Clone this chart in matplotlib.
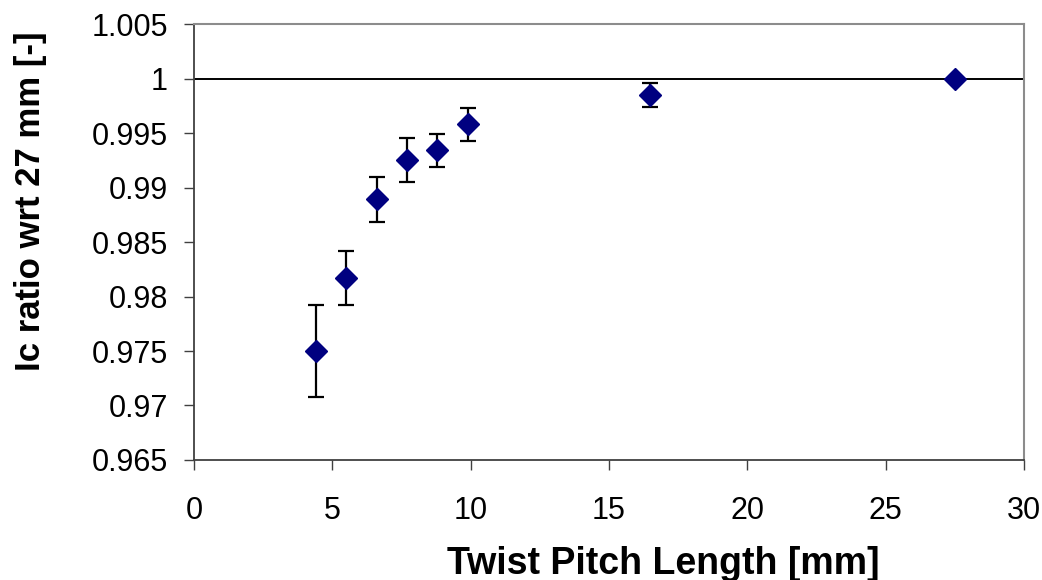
import matplotlib
matplotlib.use("Agg")
import matplotlib.pyplot as plt

plt.rcParams["font.family"] = ["Liberation Sans", "DejaVu Sans"]

# donnees
pitch = [4.4, 5.5, 6.6, 7.7, 8.8, 9.9, 16.5, 27.5]
ic_ratio = [0.9750, 0.9817, 0.9889, 0.9925, 0.9934, 0.9958, 0.9985, 1.0000]
ic_err = [0.0042, 0.0025, 0.0021, 0.0020, 0.0015, 0.0015, 0.0011, 0.0]

x_ticks = [0, 5, 10, 15, 20, 25, 30]
y_ticks = [0.965, 0.97, 0.975, 0.98, 0.985, 0.99, 0.995, 1.0, 1.005]
y_labels = ["0.965", "0.97", "0.975", "0.98", "0.985", "0.99", "0.995", "1", "1.005"]

NAVY = "#000080"

fig = plt.figure(figsize=(10.42, 5.8), dpi=100)
ax = fig.add_axes([0.1862, 0.2069, 0.7965, 0.7517])

ax.axhline(1.0, color="black", lw=1.4, zorder=1)
ax.errorbar(pitch, ic_ratio, yerr=ic_err, fmt="D", color=NAVY, ms=11,
            mec=NAVY, ecolor="black", elinewidth=1.6, capsize=5.6,
            capthick=1.6, zorder=3)

ax.set_xlim(0, 30)
ax.set_ylim(0.965, 1.005)
ax.set_xticks(x_ticks)
ax.set_yticks(y_ticks)
ax.set_yticklabels(y_labels)
ax.tick_params(axis="both", labelsize=22, direction="out", length=7,
               width=1, color="#404040")
ax.tick_params(axis="x", pad=19)
ax.tick_params(axis="y", pad=12)

for side in ["left", "bottom"]:
    ax.spines[side].set_color("#404040")
    ax.spines[side].set_linewidth(1.3)
for side in ["top", "right"]:
    ax.spines[side].set_color("#8c8c8c")
    ax.spines[side].set_linewidth(1.5)

ax.set_xlabel("Twist Pitch Length [mm]", fontsize=27, fontweight="bold")
ax.set_ylabel("Ic ratio wrt 27 mm [-]", fontsize=25, fontweight="bold")
ax.xaxis.set_label_coords(0.566, -0.197)
ax.yaxis.set_label_coords(-0.177, 0.594)

fig.savefig("out.png", dpi=100, facecolor="white")
